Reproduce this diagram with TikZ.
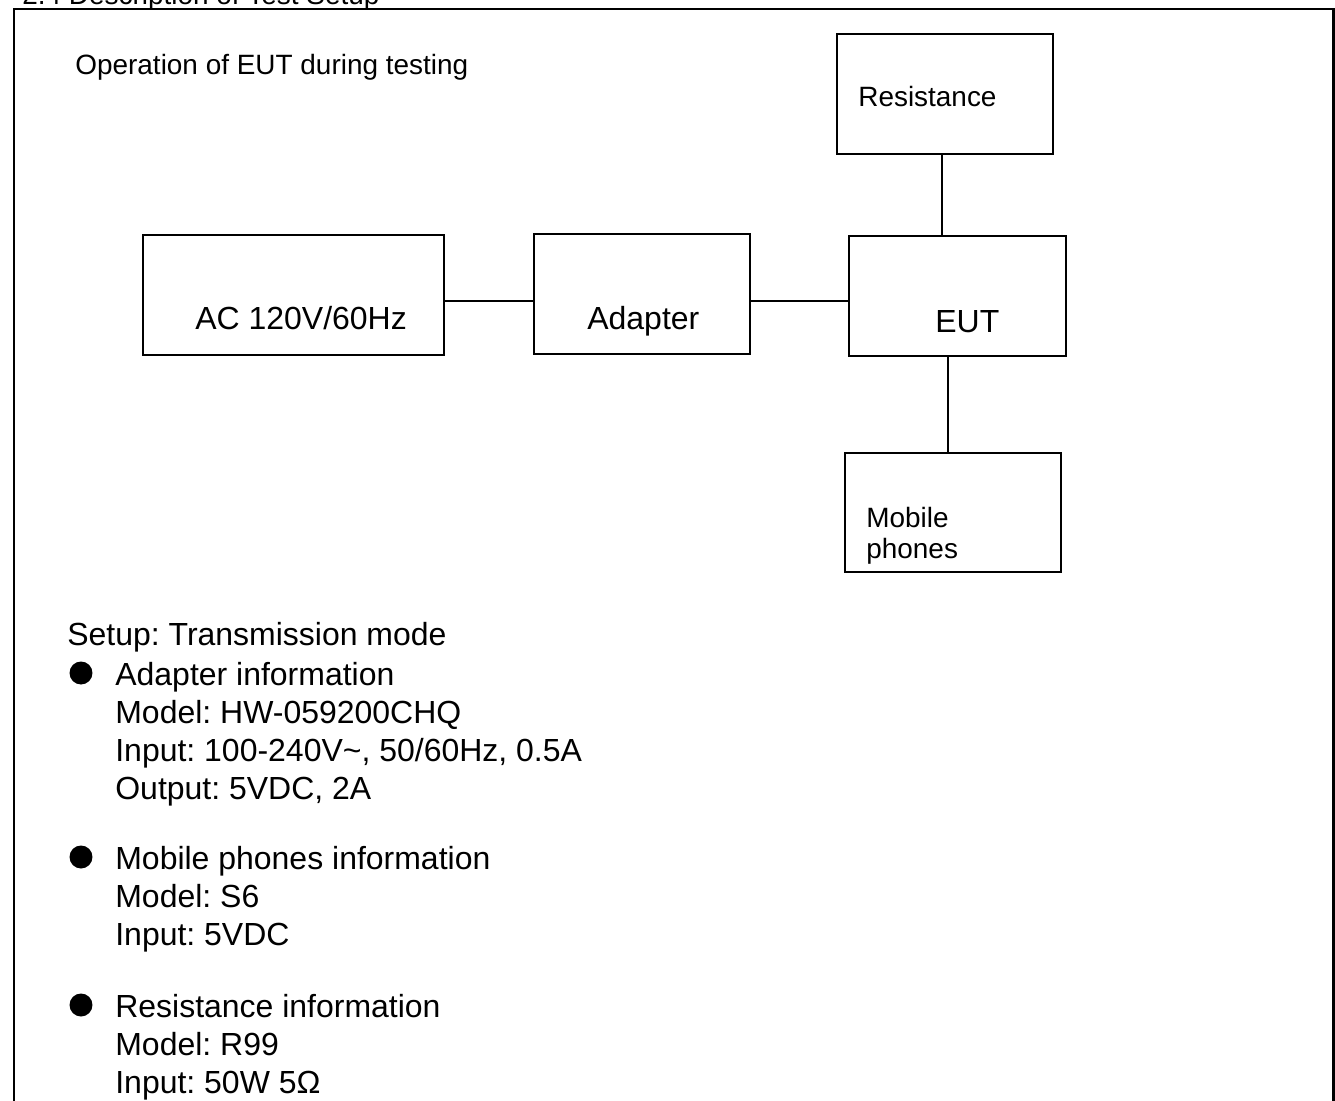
\documentclass[tikz,border=0pt]{standalone}
\usepackage{fontspec}
\setmainfont{Liberation Sans}
\frenchspacing
\begin{document}
\begin{tikzpicture}
  [
    x=0.02cm, y=-0.02cm,
    frame/.style = {line width=1.7pt},
    unit/.style = {draw, shape=rectangle, line width=1.1pt, inner sep=0pt, minimum height=2.4cm},
    wire/.style = {line width=1.1pt},
    big/.style = {font=\fontsize{18.2pt}{21.6pt}\selectfont, inner sep=0pt, anchor=base west, align=left},
    small/.style = {font=\fontsize{15.9pt}{17.6pt}\selectfont, inner sep=0pt, anchor=base west, align=left},
    dot/.style = {circle, fill, inner sep=0pt, minimum size=0.46cm},
  ]

  \useasboundingbox (0,0) rectangle (1335,1101);

  % outer frame, open at the bottom
  \draw[frame] (14,1120) -- (14,9) -- (1333,9) -- (1333,1120);
  \node[small] (title) at (22,5) {2.4 Description of Test Setup};
  \node[small] (oper) at (75,75) {Operation of EUT during testing};

  \node[unit, minimum width=6.02cm] (ac) at (293.5,295) {};
  \node[unit, minimum width=4.32cm] (adapter) at (642,294) {};
  \node[unit, minimum width=4.34cm] (eut) at (957.5,296) {};
  \node[unit, minimum width=4.32cm] (res) at (945,94) {};
  \node[unit, minimum width=4.32cm, minimum height=2.38cm] (phone) at (953,512.5) {};

  \node[big] (acl) at (195,330) {AC 120V/60Hz};
  \node[big] (adapterl) at (587,330) {Adapter};
  \node[big] (eutl) at (935,333) {EUT};
  \node[small] (resl) at (858,107) {Resistance};
  \node[small] (phonel) at (866,558) {Mobile\\phones};

  \draw[wire] (ac.east |- 0,301) -- (adapter.west |- 0,301);
  \draw[wire] (adapter.east |- 0,301) -- (eut.west |- 0,301);
  \draw[wire] (res.south -| 942,0) -- (eut.north -| 942,0);
  \draw[wire] (eut.south -| 948,0) -- (phone.north -| 948,0);

  % test setup notes (base anchor = last line)
  \node[big] (setup) at (67,645) {Setup: Transmission mode};

  \node[dot] (d1) at (81,673) {};
  \node[big] (info1) at (115,799) {Adapter information\\Model: HW-059200CHQ\\Input: 100-240V\textasciitilde, 50/60Hz, 0.5A\\Output: 5VDC, 2A};

  \node[dot] (d2) at (81,857) {};
  \node[big] (info2) at (115,945) {Mobile phones information\\Model: S6\\Input: 5VDC};

  \node[dot] (d3) at (81,1005) {};
  \node[big] (info3) at (115,1093) {Resistance information\\Model: R99\\Input: 50W 5Ω};
\end{tikzpicture}
\end{document}
